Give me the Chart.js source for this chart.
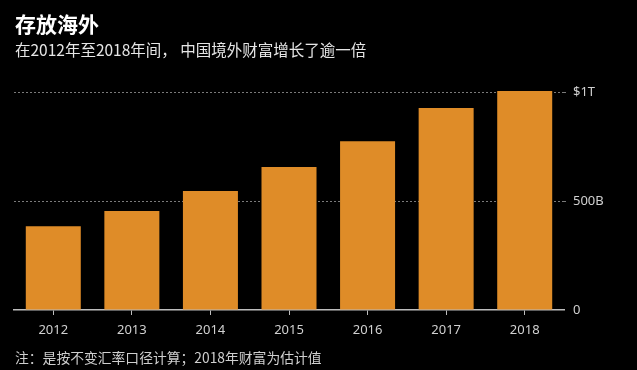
<!DOCTYPE html>
<html>
<head>
<meta charset="utf-8">
<script src="https://cdn.jsdelivr.net/npm/chart.js@4"></script>
<style>
  html, body { margin: 0; padding: 0; background: #000; }
  body { width: 637px; height: 370px; position: relative; overflow: hidden;
         font-family: "Noto Sans CJK SC", "Noto Sans", sans-serif; }
  #wrap { position: absolute; left: 0; top: 0; width: 637px; height: 370px; }
  .txt { position: absolute; left: 15px; white-space: nowrap; }
  #title { top: 8px; font-size: 21px; font-weight: bold; color: #fff; }
  #subtitle { top: 38px; font-size: 15.5px; color: #e6e6e6; }
  #note { top: 347px; font-size: 13.8px; color: #cfcfcf; }
</style>
</head>
<body>
<div id="wrap"><canvas id="chart"></canvas></div>
<div class="txt" id="title">存放海外</div>
<div class="txt" id="subtitle">在2012年至2018年间， 中国境外财富增长了逾一倍</div>
<div class="txt" id="note">注：是按不变汇率口径计算；2018年财富为估计值</div>
<script>
// Years and estimated overseas wealth (billions USD)
const years = ['2012', '2013', '2014', '2015', '2016', '2017', '2018'];
const wealth = [385, 454, 546, 656, 775, 927, 1005];
// y-axis ticks and their labels
const yTicks = [0, 500, 1000];
const yTickLabels = ['0', '500B', '$1T'];

const BAR_COLOR = '#df8c28';
const AXIS_COLOR = '#bdbdbd';
const GRID_COLOR = '#7a7a7a';
const hideZero = ctx => ctx.tick && ctx.tick.value === 0 ? 'rgba(0,0,0,0)' : GRID_COLOR;

new Chart(document.getElementById('chart').getContext('2d'), {
    type: 'bar',
    data: {
        labels: years,
        datasets: [{
            data: wealth,
            backgroundColor: BAR_COLOR,
            borderWidth: 0,
            categoryPercentage: 1,
            barPercentage: 0.7
        }]
    },
    options: {
        responsive: true,
        maintainAspectRatio: false,
        animation: false,
        layout: { padding: { left: 14, top: 90, right: 0, bottom: 0 } },
        plugins: {
            legend: { display: false },
            tooltip: { enabled: false }
        },
        scales: {
            x: {
                grid: {
                    offset: false,
                    drawOnChartArea: false,
                    drawTicks: true,
                    tickLength: 5,
                    tickColor: AXIS_COLOR
                },
                border: { display: true, color: AXIS_COLOR, width: 1.5 },
                ticks: {
                    color: '#d0d0d0',
                    font: { family: 'Noto Sans', size: 13 },
                    padding: 7,
                    maxRotation: 0
                },
                afterFit: axis => { axis.height = 60; }
            },
            y: {
                position: 'right',
                min: 0,
                max: 1010,
                afterBuildTicks: axis => { axis.ticks = yTicks.map(v => ({ value: v })); },
                grid: {
                    color: hideZero,
                    tickBorderDash: [2, 2],
                    tickLength: 4,
                    tickColor: hideZero,
                    lineWidth: 1
                },
                border: { display: false, dash: [2, 2] },
                ticks: {
                    color: '#d0d0d0',
                    font: { family: 'Noto Sans', size: 13 },
                    padding: 5,
                    callback: (v) => yTickLabels[yTicks.indexOf(v)]
                },
                afterFit: axis => { axis.width = 73; }
            }
        }
    }
});
</script>
</body>
</html>
